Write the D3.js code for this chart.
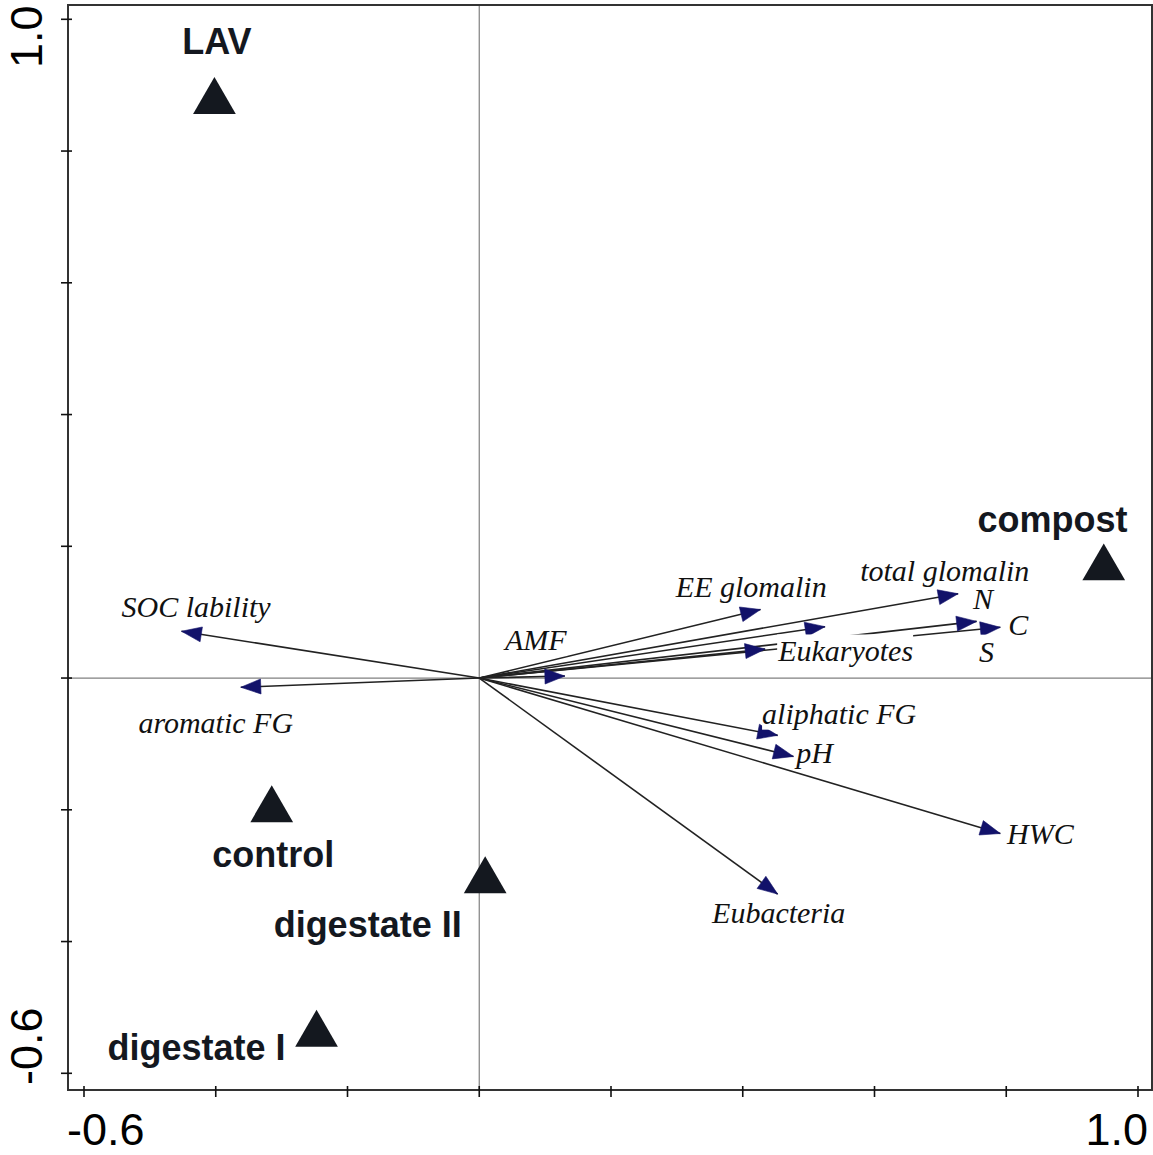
<!DOCTYPE html>
<html><head><meta charset="utf-8">
<script src="https://cdn.jsdelivr.net/npm/d3@7"></script>
<style>html,body{margin:0;padding:0;background:#fff;} svg{display:block}</style>
</head><body>
<svg id="chart" width="1153" height="1155"></svg>
<script>
// ---- data ----
const sampleNames = ["LAV", "compost", "control", "digestate II", "digestate I"];
const sampleX = [-0.402, 0.948, -0.315, 0.009, -0.247];
const sampleY = [0.875, 0.167, -0.200, -0.308, -0.541];

const varNames = ["SOC lability", "aromatic FG", "AMF", "EE glomalin", "total glomalin", "N", "C", "S",
  "Eukaryotes", "aliphatic FG", "pH", "HWC", "Eubacteria"];
const varX = [-0.452, -0.362, 0.130, 0.427, 0.727, 0.755, 0.791, 0.525, 0.434, 0.453, 0.477, 0.791, 0.453];
const varY = [0.071, -0.014, 0.003, 0.104, 0.128, 0.086, 0.077, 0.078, 0.044, -0.087, -0.119, -0.236, -0.328];

const tickValues = [-0.6, -0.4, -0.2, 0, 0.2, 0.4, 0.6, 0.8, 1.0];
const tickLabels = ["-0.6", "1.0"];

// ---- layout (label offsets in px from the mark) ----
const sampleLabelOffset = [[2.5, -47.7], [-51.2, -36.4], [1.5, 57], [-117.5, 56], [-120, 25.3]];
const varLabelOffset = [[-60, -14.3], [-102.4, 46], [-60, -26], [-84.7, -12.6], [-98, -12.3], [-3.7, -12.4],
  [8, 7.7], [154, 35], [13, 12.4], [-15.6, -11.7], [2.7, 6.6], [6.7, 10.7], [-65.6, 29.3]];

const frame = {left: 68, right: 1152, top: 5, bottom: 1090};
const x = d3.scaleLinear().domain([-0.6, 1.0]).range([84, 1138]);
const y = d3.scaleLinear().domain([-0.6, 1.0]).range([1073.3, 19.3]);

const svg = d3.select("#chart");
const ink = "#14181f";

// zero lines
svg.append("line").attr("x1", x(0)).attr("x2", x(0)).attr("y1", frame.top).attr("y2", frame.bottom)
  .attr("stroke", "#808080").attr("stroke-width", 1.2);
svg.append("line").attr("x1", frame.left).attr("x2", frame.right).attr("y1", y(0)).attr("y2", y(0))
  .attr("stroke", "#808080").attr("stroke-width", 1.2);

// arrows
const vars = varNames.map((n, i) => ({name: n, vx: varX[i], vy: varY[i], off: varLabelOffset[i]}));
const ox = x(0), oy = y(0);
svg.append("g").selectAll("line").data(vars).join("line")
  .attr("x1", ox).attr("y1", oy)
  .attr("x2", d => x(d.vx)).attr("y2", d => y(d.vy))
  .attr("stroke", "#222").attr("stroke-width", 1.6);

const headLen = 20, headHalf = 7.5;
svg.append("g").selectAll("path").data(vars).join("path")
  .attr("d", d => {
    const tx = x(d.vx), ty = y(d.vy);
    const a = Math.atan2(ty - oy, tx - ox);
    const bx = tx - headLen * Math.cos(a), by = ty - headLen * Math.sin(a);
    const px = -Math.sin(a) * headHalf, py = Math.cos(a) * headHalf;
    return `M${tx},${ty}L${bx + px},${by + py}L${bx - px},${by - py}Z`;
  })
  .attr("fill", "#12126a").attr("stroke", "#12126a").attr("stroke-width", 0.6);

// variable labels with white boxes
const vl = svg.append("g").selectAll("g").data(vars).join("g");
vl.append("text")
  .attr("x", d => x(d.vx) + d.off[0]).attr("y", d => y(d.vy) + d.off[1])
  .attr("font-family", "'Liberation Serif', 'Times New Roman', serif")
  .attr("font-style", "italic").attr("font-size", 30).attr("fill", "#111")
  .text(d => d.name);
vl.each(function() {
  const g = d3.select(this);
  const bb = g.select("text").node().getBBox();
  g.insert("rect", "text").attr("x", bb.x).attr("y", bb.y).attr("width", bb.width).attr("height", bb.height)
    .attr("fill", "#fff");
});

// samples
const samples = sampleNames.map((n, i) => ({name: n, sx: sampleX[i], sy: sampleY[i], off: sampleLabelOffset[i]}));
const tri = d3.symbol().type(d3.symbolTriangle).size(790);
svg.append("g").selectAll("path").data(samples).join("path")
  .attr("transform", d => `translate(${x(d.sx)},${y(d.sy)})`)
  .attr("d", tri).attr("fill", ink);
svg.append("g").selectAll("text").data(samples).join("text")
  .attr("x", d => x(d.sx) + d.off[0]).attr("y", d => y(d.sy) + d.off[1])
  .attr("text-anchor", "middle")
  .attr("font-family", "'Liberation Sans', Arial, sans-serif")
  .attr("font-weight", "bold").attr("font-size", 36).attr("fill", ink)
  .text(d => d.name);

// frame
svg.append("rect").attr("x", frame.left).attr("y", frame.top)
  .attr("width", frame.right - frame.left).attr("height", frame.bottom - frame.top)
  .attr("fill", "none").attr("stroke", "#333").attr("stroke-width", 2);

// ticks
svg.append("g").selectAll("line").data(tickValues).join("line")
  .attr("x1", d => x(d)).attr("x2", d => x(d))
  .attr("y1", frame.bottom - 4).attr("y2", frame.bottom + 7)
  .attr("stroke", "#111").attr("stroke-width", 1.6);
svg.append("g").selectAll("line").data(tickValues).join("line")
  .attr("y1", d => y(d)).attr("y2", d => y(d))
  .attr("x1", frame.left - 7).attr("x2", frame.left + 4)
  .attr("stroke", "#111").attr("stroke-width", 1.6);

// tick labels (end values only)
const tf = "'Liberation Sans', Arial, sans-serif";
svg.append("text").attr("x", frame.left - 1).attr("y", 1145).attr("text-anchor", "start")
  .attr("font-family", tf).attr("font-size", 45).attr("fill", "#000").text(tickLabels[0]);
svg.append("text").attr("x", frame.right - 4).attr("y", 1145).attr("text-anchor", "end")
  .attr("font-family", tf).attr("font-size", 45).attr("fill", "#000").text(tickLabels[1]);
svg.append("text").attr("transform", `translate(42,${frame.bottom - 5}) rotate(-90)`).attr("text-anchor", "start")
  .attr("font-family", tf).attr("font-size", 45).attr("fill", "#000").text(tickLabels[0]);
svg.append("text").attr("transform", `translate(42,${frame.top + 63}) rotate(-90)`).attr("text-anchor", "start")
  .attr("font-family", tf).attr("font-size", 45).attr("fill", "#000").text(tickLabels[1]);
</script>
</body></html>
